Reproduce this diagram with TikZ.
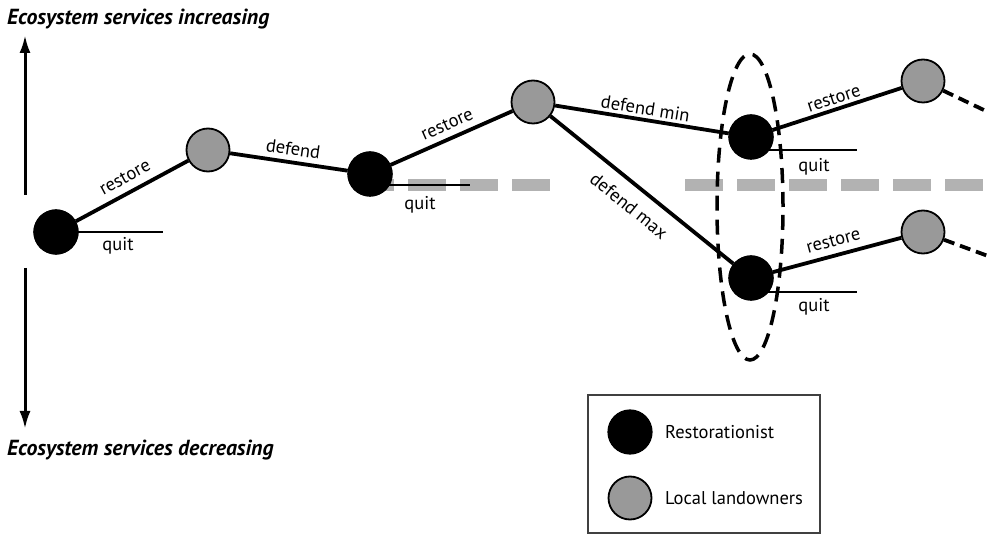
\documentclass[tikz,border=0pt]{standalone}
\usepackage{fontspec}
\setmainfont{PT Sans}
\usetikzlibrary{arrows.meta,shapes.geometric}
\begin{document}
\begin{tikzpicture}[x=1pt,y=-1pt,
  rnode/.style={circle,fill=black,draw=black,line width=1.2pt,minimum size=44pt,inner sep=0pt},
  gnode/.style={circle,fill=black!40,draw=black,line width=1.8pt,minimum size=43pt,inner sep=0pt},
  move/.style={line width=3.8pt},
  quitline/.style={line width=2.6pt},
  lbl/.style={font=\fontsize{18.5}{22}\selectfont,inner sep=3pt},
  head/.style={font=\fontsize{21.8}{24}\selectfont\bfseries\itshape,anchor=west,inner sep=0pt},
  threshold/.style={line width=12pt,draw=black!30,dash pattern=on 38pt off 14pt},
  future/.style={line width=3.8pt,dash pattern=on 11pt off 6pt},
  axis/.style={line width=3pt,-{Latex[length=18pt,width=11pt]}}
]
\useasboundingbox (0,0) rectangle (988,534);

% threshold line
\coordinate (t1a) at (356,185);
\coordinate (t1b) at (550,185);
\coordinate (t2a) at (685,185);
\coordinate (t2b) at (988,185);
\draw[threshold] (t1a) -- (t1b);
\draw[threshold] (t2a) -- (t2b);

% axis arrows
\coordinate (au1) at (25,195);
\coordinate (au2) at (25,35);
\coordinate (ad1) at (25,268);
\coordinate (ad2) at (25,429);
\draw[axis] (au1) -- (au2);
\draw[axis] (ad1) -- (ad2);
\node[head] (hup) at (7,19) {Ecosystem services increasing};
\node[head] (hdn) at (7,450) {Ecosystem services decreasing};

% nodes
\node[rnode] (R1) at (56,232) {};
\node[gnode] (G1) at (208,150) {};
\node[rnode] (R2) at (370,174) {};
\node[gnode] (G2) at (533,102) {};
\node[rnode] (R3) at (751,137) {};
\node[rnode] (R4) at (751,278) {};
\node[gnode] (G3) at (923,81) {};
\node[gnode] (G4) at (923,232) {};

% quit lines
\coordinate (q1s) at (70,232);
\coordinate (q1e) at (163,232);
\coordinate (q2s) at (380,185);
\coordinate (q2e) at (470,185);
\coordinate (q3s) at (765,150);
\coordinate (q3e) at (857,150);
\coordinate (q4s) at (765,292);
\coordinate (q4e) at (857,292);
\draw[quitline] (q1s) -- (q1e);
\draw[quitline] (q2s) -- (q2e);
\draw[quitline] (q3s) -- (q3e);
\draw[quitline] (q4s) -- (q4e);
\node[rnode] at (R1) {};
\node[rnode] at (R2) {};
\node[rnode] at (R3) {};
\node[rnode] at (R4) {};
\node[lbl] (lq1) at (118,246) {quit};
\node[lbl] (lq2) at (420,205) {quit};
\node[lbl] (lq3) at (814,167) {quit};
\node[lbl] (lq4) at (814,307) {quit};

% moves
\draw[move] (R1) -- node[lbl,sloped,above=4.5pt,pos=0.5] {restore} (G1);
\draw[move] (G1) -- node[lbl,sloped,above=2pt,pos=0.52] {defend} (R2);
\draw[move] (R2) -- node[lbl,sloped,above=3.5pt,pos=0.51] {restore} (G2);
\draw[move] (G2) -- node[lbl,sloped,above=0pt,pos=0.51] {defend min} (R3);
\draw[move] (G2) -- node[lbl,sloped,below=9pt,pos=0.5] {defend max} (R4);
\draw[move] (R3) -- node[lbl,sloped,above=0pt,pos=0.5] {restore} (G3);
\draw[move] (R4) -- node[lbl,sloped,above=4pt,pos=0.5] {restore} (G4);

% future
\coordinate (f1) at (988,112);
\coordinate (f2) at (988,256);
\draw[future] (G3) -- (f1);
\draw[future] (G4) -- (f2);

% ellipse
\node[draw,ellipse,line width=3.5pt,dash pattern=on 15pt off 9pt,minimum width=66pt,minimum height=306pt,inner sep=0pt] (ell) at (750,207) {};

% legend
\node[draw=black!75,line width=1.2pt,minimum width=232pt,minimum height=138pt,inner sep=0pt] (leg) at (704,464) {};
\node[rnode] (LR) at (630,432) {};
\node[gnode] (LG) at (630,498) {};
\node[lbl,anchor=west,inner sep=0pt] (LRt) at (665,432) {Restorationist};
\node[lbl,anchor=west,inner sep=0pt] (LGt) at (665,498) {Local landowners};
\end{tikzpicture}
\end{document}
